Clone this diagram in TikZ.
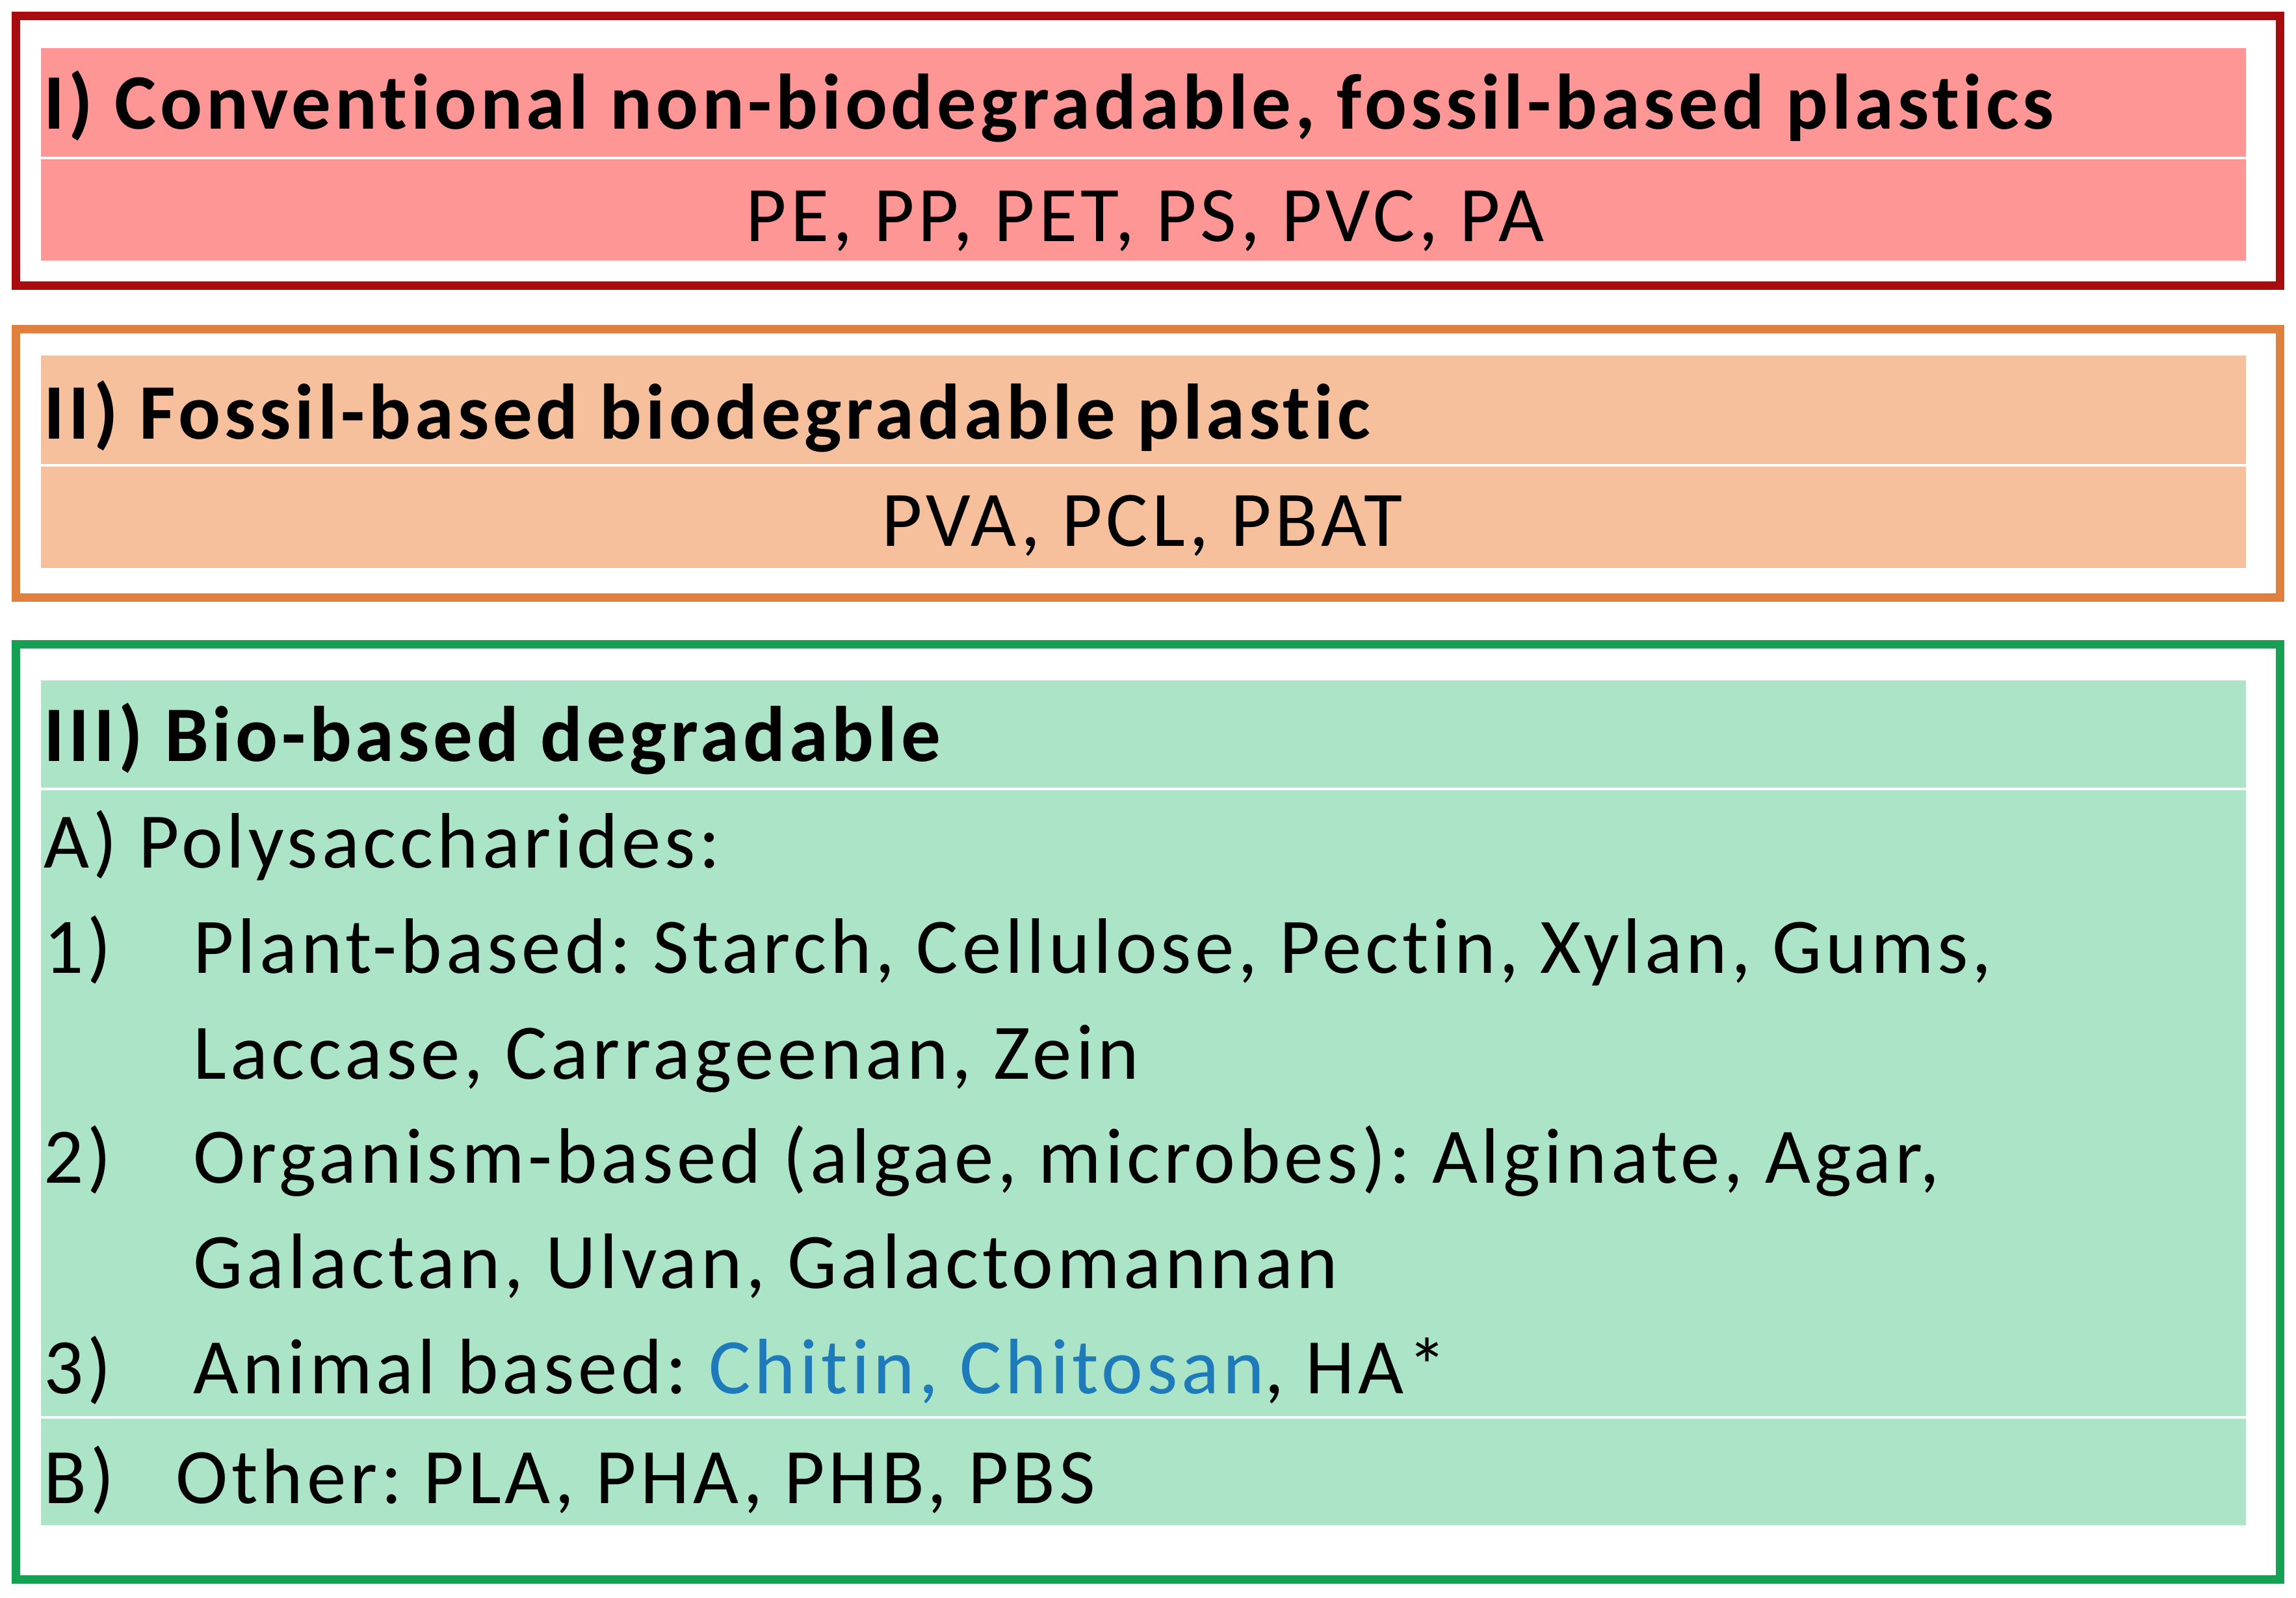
\documentclass[tikz,border=0pt]{standalone}
\usepackage{fontspec}
\setmainfont{Carlito}[LetterSpace=4.8,Ligatures={NoCommon}]
\frenchspacing
\definecolor{redline}{RGB}{168,12,14}
\definecolor{redfill}{RGB}{255,150,150}
\definecolor{orline}{RGB}{224,128,62}
\definecolor{orfill}{RGB}{246,192,156}
\definecolor{grline}{RGB}{22,160,84}
\definecolor{grfill}{RGB}{172,228,200}
\definecolor{bluetxt}{RGB}{30,122,185}
\begin{document}
\begin{tikzpicture}[x=2.2526pt,y=-2.2526pt,
  frame/.style={line width=13pt},
  divider/.style={white,line width=4pt},
  txt/.style={anchor=base west,inner sep=0pt,font=\fontsize{121}{140}\selectfont},
  ttl/.style={anchor=base west,inner sep=0pt,font=\fontsize{121}{140}\selectfont\bfseries},
  ctr/.style={anchor=base,inner sep=0pt,font=\fontsize{121}{140}\selectfont}]
\useasboundingbox[fill=white] (0,0) rectangle (1568,1091.6);
% Box I
\fill[redfill] (28,33) rectangle (1534,178);
\draw[divider] (28,108) -- (1534,108);
\draw[frame,draw=redline] (11,11) rectangle (1557,195);
% Box II
\fill[orfill] (28,243) rectangle (1534,388);
\draw[divider] (28,318) -- (1534,318);
\draw[frame,draw=orline] (11,225) rectangle (1557,408);
% Box III
\fill[grfill] (28,465) rectangle (1534,1042);
\draw[divider] (28,539) -- (1534,539);
\draw[divider] (28,968) -- (1534,968);
\draw[frame,draw=grline] (11,440) rectangle (1557,1079);
% texts
\node[ttl] (t1) at (30,88) {I) Conventional non-biodegradable, fossil-based plastics};
\node[ctr] (l1) at (782,165) {PE, PP, PET, PS, PVC, PA};
\node[ttl] (t2) at (30,300) {II) Fossil-based biodegradable plastic};
\node[ctr] (l2) at (780,373) {PVA, PCL, PBAT};
\node[ttl] (t3) at (30,520) {III) Bio-based degradable};
\node[txt] (a) at (30,593) {A) Polysaccharides:};
\node[txt] (n1) at (30,665) {1)};
\node[txt] (p1) at (132,665) {Plant-based: Starch, Cellulose, Pectin, Xylan, Gums,};
\node[txt] (p1b) at (132,737) {Laccase, Carrageenan, Zein};
\node[txt] (n2) at (30,808) {2)};
\node[txt] (p2) at (132,808) {Organism-based (algae, microbes): Alginate, Agar,};
\node[txt] (p2b) at (132,880) {Galactan, Ulvan, Galactomannan};
\node[txt] (n3) at (30,952) {3)};
\node[txt] (p3) at (132,952) {Animal based: \textcolor{bluetxt}{Chitin, Chitosan}, HA*};
\node[txt] (b) at (30,1027) {B)};
\node[txt] (pb) at (120,1027) {Other: PLA, PHA, PHB, PBS};
\end{tikzpicture}
\end{document}
